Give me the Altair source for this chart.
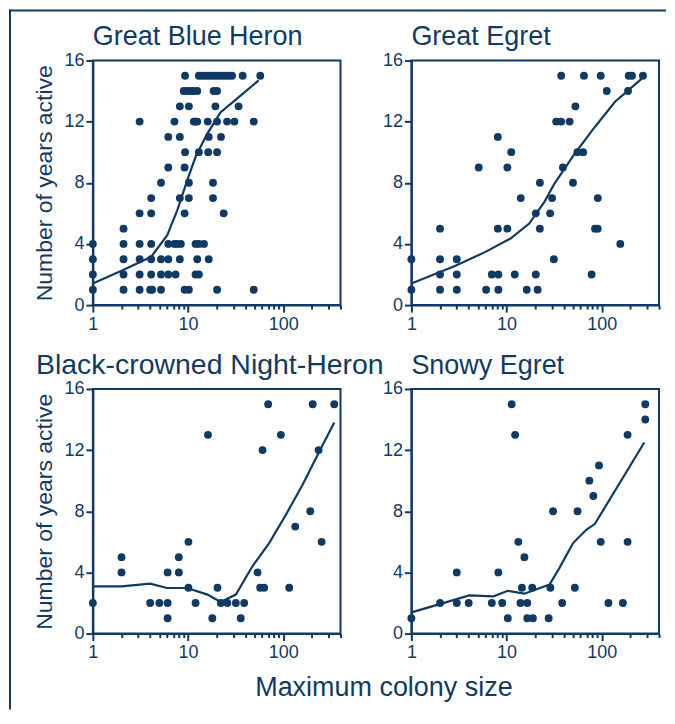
import altair as alt
import pandas as pd

NAVY = "#103a64"
FONT = "Liberation Sans"

# ---- axis ticks ----
x_major = [1, 10, 100]
x_minor = [2, 3, 4, 5, 6, 7, 8, 9, 20, 30, 40, 50, 60, 70, 80, 90, 200, 300, 400]
y_ticks = [0, 4, 8, 12, 16]

panel_titles = ["Great Blue Heron", "Great Egret", "Black-crowned Night-Heron", "Snowy Egret"]

# ---- Great Blue Heron: years active -> colony sizes ----
gbh_pts = {
    15: [9.3, 13, 14.1, 15.3, 16.5, 17.9, 19.4, 21, 22.8, 24.7, 26.8, 29, 37.5, 57.4],
    14: [9.0, 9.8, 10.6, 11.5, 12.5, 18.6, 20.2],
    13: [8.2, 10.2, 19.4, 34],
    12: [3.1, 7.2, 11.5, 12, 12.5, 16.1, 20.2, 25.7, 30.7, 49],
    11: [6.2, 8.2, 16.5, 22.2],
    10: [9.3, 13, 16.3, 20.2],
    9: [6.2, 9.2],
    8: [5.2, 10.2, 18.3],
    7: [4.1, 8.2, 10.2, 18.3],
    6: [3.1, 4.1, 9.2, 23.7],
    5: [2.1],
    4: [1, 2.1, 3.1, 4.1, 6.2, 7.2, 7.7, 8.4, 12, 13, 14.7],
    3: [1, 2.1, 3.1, 4.1, 5.2, 6.2, 8.2, 12.5, 16.5],
    2: [1, 2.1, 3.1, 4.1, 5.2, 6.2, 7.4, 12, 13],
    1: [1, 2.1, 3.1, 4.0, 4.2, 5.2, 9.2, 10.2, 20.2, 49],
}
gbh_line_x = [1, 2.08, 4.1, 6.05, 7.7, 9.8, 12, 15.9, 21.9, 32.7, 55.2]
gbh_line_y = [1.41, 2.29, 3.16, 4.57, 6.2, 8.16, 9.7, 11.2, 12.6, 13.5, 14.7]

# ---- Great Egret ----
ge_pts = {
    15: [37.5, 65, 97.6, 192, 208, 271],
    14: [113, 189],
    13: [52.9],
    12: [33.2, 37.5, 46],
    11: [8.1],
    10: [11.2, 55.5, 63.8],
    9: [5.1, 10.2, 39.1],
    8: [22.4, 49.9],
    7: [14.1, 30.1, 91],
    6: [20.3, 28.7],
    5: [2, 8.1, 10.2, 22.4, 85, 90.7],
    4: [156.7],
    3: [1, 2, 3, 31.4],
    2: [2, 3, 7, 8.2, 12.2, 20.3, 78.3],
    1: [1, 2, 3, 6.1, 8.2, 16.3, 21.2],
}
ge_line_x = [1, 2.87, 6, 11, 17.3, 25, 31.9, 52, 84.7, 138, 262]
ge_line_y = [1.41, 2.55, 3.48, 4.35, 5.33, 6.75, 7.95, 9.9, 11.65, 13.3, 14.8]

# ---- Black-crowned Night-Heron ----
bcnh_pts = {
    15: [69.5, 204, 344],
    13: [16.2, 94.5],
    12: [60.6, 235.5],
    8: [192.4],
    7: [133.8],
    6: [10.1, 253.2],
    5: [2, 8],
    4: [2, 6.1, 8, 53.7],
    3: [10.1, 20.4, 57.3, 63.1, 115.7],
    2: [1, 4, 5, 6.1, 12, 22.1, 25.9, 31.8, 38.9],
    1: [6.1, 18, 35.8],
}
bcnh_line_x = [1, 2, 4, 6, 9.8, 16, 22, 31.8, 47.5, 71.2, 106.7, 159.8, 239, 344]
bcnh_line_y = [3.09, 3.09, 3.27, 2.98, 2.98, 2.55, 2.07, 2.55, 4.4, 5.92, 7.77, 9.73, 11.9, 13.8]

# ---- Snowy Egret ----
se_pts = {
    15: [11.3, 287],
    14: [287],
    13: [12.3, 187],
    11: [93.7],
    10: [74.1],
    9: [81.6],
    8: [30.8, 55.7],
    6: [13.3, 97.6, 187],
    5: [15.4],
    4: [3, 8.2],
    3: [14.5, 18.6, 28.9, 52.2],
    2: [2, 3, 4, 7, 9, 14, 16.5, 38.4, 117.6, 166.8],
    1: [1, 10.3, 16.5, 18.9, 27.7],
}
se_line_x = [1, 2.03, 4.05, 7.3, 10.3, 15.4, 28.3, 36, 50, 68.9, 84.9, 280]
se_line_y = [1.39, 1.94, 2.5, 2.44, 2.8, 2.61, 3.2, 4.3, 5.92, 6.79, 7.18, 12.5]

MAJOR_TEST = "datum.value == 1 || datum.value == 10 || datum.value == 100"


def panel(title, pts, lx, ly, left, x_title=False, title_dx=0, title_size=27, border=False):
    df = pd.DataFrame([{"size": x, "years": y} for y, xs in pts.items() for x in xs])
    ldf = pd.DataFrame({"size": lx, "years": ly})

    xaxis_kw = dict(
        values=x_major + x_minor,
        labelExpr="(" + MAJOR_TEST + ") ? format(datum.value, 'd') : ''",
        tickSize={"condition": {"test": MAJOR_TEST, "value": 7}, "value": 4},
        labelOverlap=False,
        labelFlush=False,
        labelPadding=3,
    )
    if x_title:
        xaxis_kw.update(
            title="Maximum colony size",
            titleX=291,
            titleY=54,
            titleBaseline="middle",
            titleFontSize=27,
        )
    else:
        xaxis_kw.update(title=None)

    yaxis_kw = dict(values=y_ticks, tickSize=7, labelPadding=2, labelOverlap=False, labelFlush=False)
    if left:
        yaxis_kw.update(title="Number of years active", titlePadding=7, titleFontSize=23)
    else:
        yaxis_kw.update(title=None)

    xs = alt.Scale(type="log", domain=[1, 400], nice=False)
    ys = alt.Scale(domain=[0, 16], nice=False)

    pts_layer = alt.Chart(df).mark_circle(size=62, opacity=1, color=NAVY).encode(
        x=alt.X("size:Q", scale=xs, axis=alt.Axis(**xaxis_kw)),
        y=alt.Y("years:Q", scale=ys, axis=alt.Axis(**yaxis_kw)),
    )
    line_layer = alt.Chart(ldf).mark_line(color=NAVY, strokeWidth=2.2).encode(
        x="size:Q", y="years:Q"
    )
    title_layer = alt.Chart(pd.DataFrame({"t": [title]})).mark_text(
        align="left", baseline="alphabetic", fontSize=title_size, font=FONT, color=NAVY
    ).encode(text="t:N", x=alt.value(title_dx), y=alt.value(-15))

    layers = [pts_layer, line_layer, title_layer]
    if border:
        bdf = pd.DataFrame({"k": [0]})
        # outer frame: thin filled bars for the left and top edges
        layers.append(
            alt.Chart(bdf).mark_rect(color=NAVY).encode(
                x=alt.value(-84), x2=alt.value(-82), y=alt.value(-51), y2=alt.value(650)
            )
        )
        layers.append(
            alt.Chart(bdf).mark_rect(color=NAVY).encode(
                x=alt.value(-84), x2=alt.value(574), y=alt.value(-51), y2=alt.value(-49)
            )
        )
    return alt.layer(*layers).properties(
        width=248, height=245,
        view=alt.ViewBackground(stroke=NAVY, strokeWidth=2),
    )


p1 = panel(panel_titles[0], gbh_pts, gbh_line_x, gbh_line_y, left=True, border=True)
p2 = panel(panel_titles[1], ge_pts, ge_line_x, ge_line_y, left=False)
p3 = panel(panel_titles[2], bcnh_pts, bcnh_line_x, bcnh_line_y, left=True, x_title=True,
           title_dx=-57, title_size=28.5)
p4 = panel(panel_titles[3], se_pts, se_line_x, se_line_y, left=False)

chart = (
    alt.concat(
        p1, p2, p3, p4,
        columns=2,
        spacing=alt.RowColnumber(row=84, column=71),
        bounds="flush",
    )
    .properties(padding={"left": 0, "top": 0, "right": 0, "bottom": 0}, background="white")
    .configure_view(stroke="transparent", strokeWidth=0)
    .configure_axis(
        grid=False,
        domainColor=NAVY,
        domainWidth=2,
        tickColor=NAVY,
        tickWidth=2,
        labelColor=NAVY,
        titleColor=NAVY,
        labelFont=FONT,
        titleFont=FONT,
        labelFontSize=18,
        titleFontWeight="normal",
    )
)

chart.save("out.html", embed_options={"renderer": "svg", "actions": False})
